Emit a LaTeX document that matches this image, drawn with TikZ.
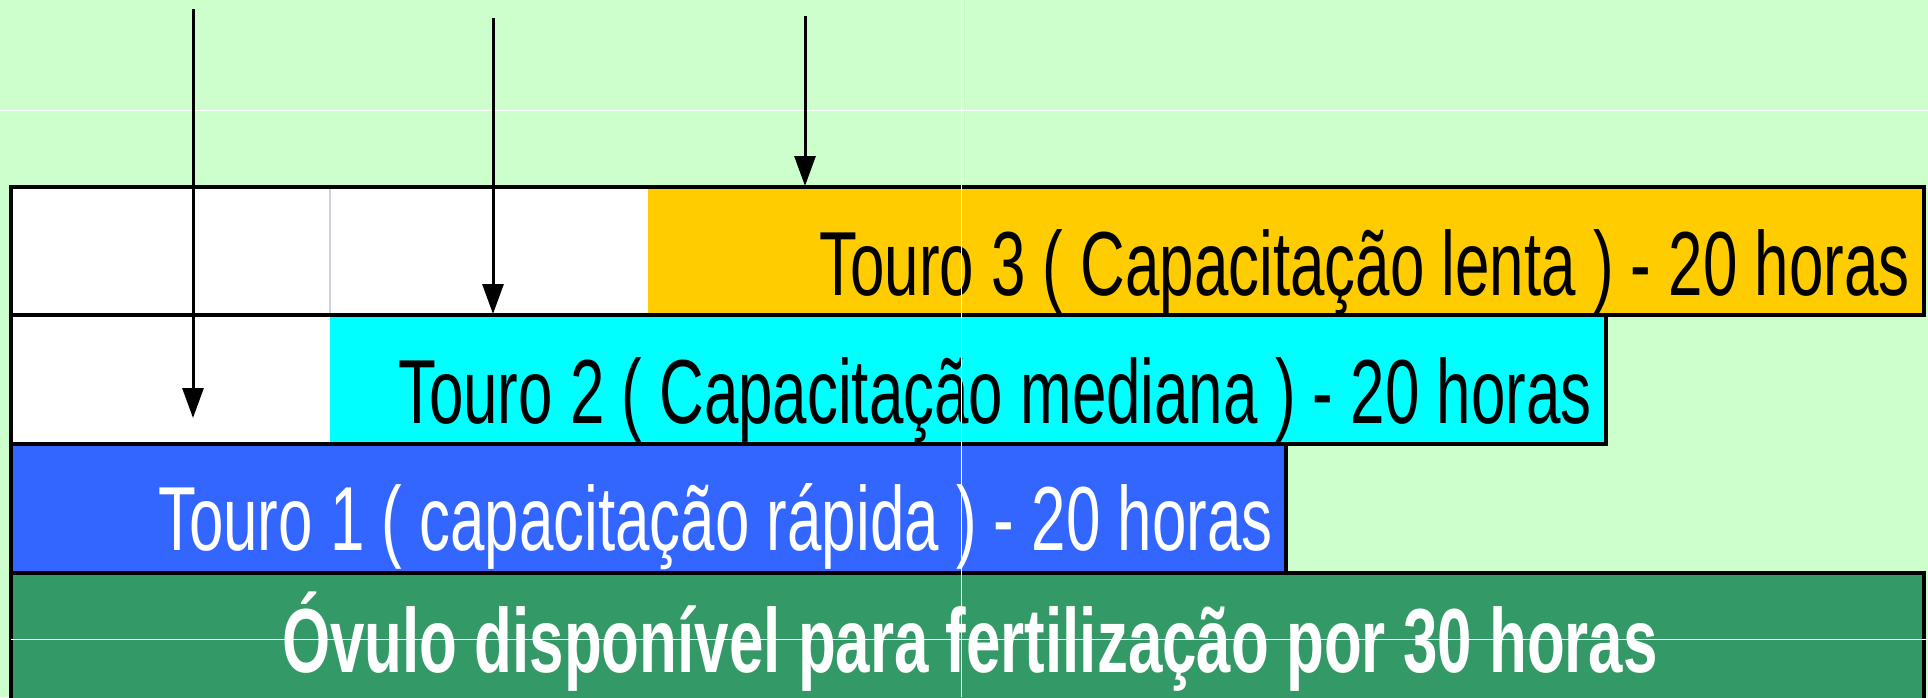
\documentclass[tikz,border=0pt]{standalone}
\usepackage{fontspec}
\setmainfont[FakeStretch=0.68]{Liberation Sans}
\usetikzlibrary{arrows.meta}

\definecolor{bgmint}{HTML}{CCFFCC}
\definecolor{lentagold}{HTML}{FFCC00}
\definecolor{medianacyan}{HTML}{00FFFF}
\definecolor{rapidablue}{HTML}{3366FF}
\definecolor{ovulogreen}{HTML}{339966}
\definecolor{faintgrey}{HTML}{CDD3DE}

\tikzset{
  bar/.style={draw=black, line width=2pt},
  label/.style={inner sep=0pt, font=\fontsize{45.5}{54}\selectfont},
  guide/.style={white, line width=0.5pt},
  spermarrow/.style={-{Triangle[length=15pt, width=10.5pt]}, line width=1.5pt},
}

\begin{document}
\begin{tikzpicture}[x=0.5pt, y=-0.5pt]
   \useasboundingbox (0,0) rectangle (1928,697);
   \clip (0,0) rectangle (1928,697);
   \fill[bgmint] (0,0) rectangle (1928,697);

   % bars
   \fill[white] (11,187) rectangle (648,315);
   \fill[lentagold] (648,187) rectangle (1924,315);
   \draw[faintgrey, line width=1pt] (330,189) -- (330,313);
   \draw[bar] (11,187) rectangle (1924,315);

   \fill[white] (11,315) rectangle (330,444);
   \fill[medianacyan] (330,315) rectangle (1606,444);
   \draw[bar] (11,315) rectangle (1606,444);

   \draw[bar, fill=rapidablue] (11,444) rectangle (1286,573);

   \draw[bar, fill=ovulogreen] (11,573) rectangle (1924,730);

   % labels
   \node[label, anchor=base east] (touro3) at (1910,295)
     {Touro 3 ( Capacitação lenta ) - 20 horas};
   \node[label, anchor=base east] (touro2) at (1592,423)
     {Touro 2 ( Capacitação mediana ) - 20 horas};
   \node[label, anchor=base east, white] (touro1) at (1273,550)
     {Touro 1 ( capacitação rápida ) - 20 horas};
   \node[label, anchor=base, white, font=\fontsize{45.5}{54}\selectfont\bfseries] (ovulo) at (970,672)
     {Óvulo disponível para fertilização por 30 horas};

   % guides
   \draw[guide] (0,110) -- (1928,110);
   \draw[guide] (11,639) -- (1928,639);
   \draw[guide] (961,0) -- (961,697);

   % arrow ends
   \coordinate (start1) at (193,9);
   \coordinate (end1) at (193,418);
   \coordinate (start2) at (493,18);
   \coordinate (end2) at (493,314);
   \coordinate (start3) at (805,16);
   \coordinate (end3) at (805,186);

   % draw arrows
   \draw[spermarrow] (start1) -- (end1);
   \draw[spermarrow] (start2) -- (end2);
   \draw[spermarrow] (start3) -- (end3);
\end{tikzpicture}
\end{document}
